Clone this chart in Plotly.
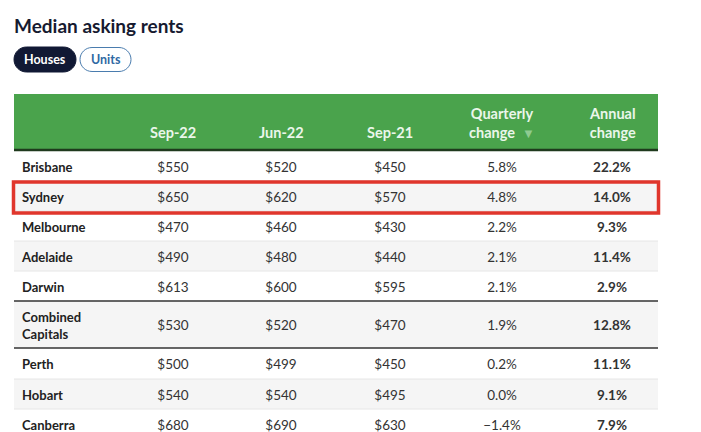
import plotly.graph_objects as go

# ---------------- data ----------------
cities = ["Brisbane", "Sydney", "Melbourne", "Adelaide", "Darwin",
          "Combined<br>Capitals", "Perth", "Hobart", "Canberra"]
sep22 = [550, 650, 470, 490, 613, 530, 500, 540, 680]
jun22 = [520, 620, 460, 480, 600, 520, 499, 540, 690]
sep21 = [450, 570, 430, 440, 595, 470, 450, 495, 630]
quarterly = [5.8, 4.8, 2.2, 2.1, 2.1, 1.9, 0.2, 0.0, -1.4]
annual = [22.2, 14.0, 9.3, 11.4, 2.9, 12.8, 11.1, 9.1, 7.9]
headers = ["Sep-22", "Jun-22", "Sep-21", "Quarterly<br>change", "Annual<br>change"]
title = "Median asking rents"
tabs = ["Houses", "Units"]
highlight = "Sydney"

# ---------------- layout constants ----------------
W, H = 701, 432
FONT = "Lato"
TBL_L, TBL_R = 14, 658
HDR_TOP, HDR_BOT = 94, 149
ROW_TOP = 151
row_h = [30, 30, 30, 30, 30, 47, 31, 30, 30]
col_x = [173, 281, 390, 502, 612]
name_x = 22
GREEN = "#4aa34c"
ROW_GRAY = "#f5f5f5"
SEP = "#e6e6e6"
TXT = "#333333"
NAME = "#222222"

# compute row bounds
tops, bots, centers = [], [], []
y = ROW_TOP
for h in row_h:
    tops.append(y)
    bots.append(y + h)
    centers.append(y + h / 2 + 2.5)
    y += h

fig = go.Figure()
shapes = []

# header
shapes.append(dict(type="rect", x0=TBL_L, x1=TBL_R, y0=HDR_TOP, y1=HDR_BOT,
                   fillcolor=GREEN, line=dict(width=0), layer="below"))
shapes.append(dict(type="line", x0=TBL_L, x1=TBL_R, y0=HDR_BOT + 1, y1=HDR_BOT + 1,
                   line=dict(color="#1f3a1d", width=2.5)))

# row fills and separators
for i in range(len(cities)):
    if i % 2 == 1:
        shapes.append(dict(type="rect", x0=TBL_L, x1=TBL_R, y0=tops[i], y1=bots[i],
                           fillcolor=ROW_GRAY, line=dict(width=0), layer="below"))
for i in range(1, len(cities)):
    dark = "Capitals" in cities[i] or "Capitals" in cities[i - 1]
    shapes.append(dict(type="line", x0=TBL_L, x1=TBL_R, y0=tops[i], y1=tops[i],
                       line=dict(color="#333333" if dark else SEP,
                                 width=1.5 if dark else 1)))

# highlight box
hi = cities.index(highlight)
shapes.append(dict(type="rect", x0=TBL_L - 0.5, x1=TBL_R + 0.5,
                   y0=tops[hi] + 1, y1=bots[hi] + 2,
                   line=dict(color="#e0362c", width=3.5), fillcolor="rgba(0,0,0,0)"))

# tab pills (rounded ends drawn with cubic curves)
def pill(x0, x1, y0, y1, fill, line_color):
    r = (y1 - y0) / 2
    k = 0.5523 * r
    yc = (y0 + y1) / 2
    a, b = x0 + r, x1 - r
    path = (f"M{a},{y0} L{b},{y0} "
            f"C{b + k},{y0} {x1},{yc - k} {x1},{yc} "
            f"C{x1},{yc + k} {b + k},{y1} {b},{y1} "
            f"L{a},{y1} "
            f"C{a - k},{y1} {x0},{yc + k} {x0},{yc} "
            f"C{x0},{yc - k} {a - k},{y0} {a},{y0} Z")
    return dict(type="path", path=path, fillcolor=fill,
                line=dict(color=line_color, width=1))

shapes.append(pill(14, 76, 47, 72, "#111934", "#111934"))
shapes.append(pill(80, 131, 47.5, 71.5, "white", "#4a7cae"))

# ---------------- text ----------------
def fmt_money(v):
    return f"${v}"

def fmt_pct(v):
    return ("\u2212" if v < 0 else "") + f"{abs(v):.1f}%"

# names
fig.add_trace(go.Scatter(x=[name_x] * len(cities), y=centers, mode="text",
                         text=[f"<b>{c}</b>" for c in cities],
                         textposition="middle right",
                         textfont=dict(family=FONT, size=13, color=NAME),
                         hoverinfo="skip"))
cols = [
    [fmt_money(v) for v in sep22],
    [fmt_money(v) for v in jun22],
    [fmt_money(v) for v in sep21],
    [fmt_pct(v) for v in quarterly],
    [f"<b>{fmt_pct(v)}</b>" for v in annual],
]
for cx, txt in zip(col_x, cols):
    fig.add_trace(go.Scatter(x=[cx] * len(txt), y=centers, mode="text", text=txt,
                             textposition="middle center",
                             textfont=dict(family=FONT, size=13.5, color=TXT),
                             hoverinfo="skip"))

# headers
annotations = []
for cx, h in zip(col_x, headers):
    label = h
    if h.startswith("Quarterly"):
        label = h + "  <span style='color:#8fcb91;font-size:13px'>\u25BC</span>"
    annotations.append(dict(x=cx, y=HDR_BOT - 6, xref="x", yref="y",
                            text=f"<b>{label}</b>", showarrow=False,
                            xanchor="center", yanchor="bottom", align="center",
                            font=dict(family=FONT, size=14.5, color="#eaf6ea")))

# title and tabs
annotations.append(dict(x=12, y=25, xref="x", yref="y", text=f"<b>{title}</b>",
                        showarrow=False, xanchor="left", yanchor="middle",
                        font=dict(family=FONT, size=19, color="#161a30")))
annotations.append(dict(x=45, y=59.5, xref="x", yref="y", text=f"<b>{tabs[0]}</b>",
                        showarrow=False, xanchor="center", yanchor="middle",
                        font=dict(family=FONT, size=12.5, color="white")))
annotations.append(dict(x=105.5, y=59.5, xref="x", yref="y", text=f"<b>{tabs[1]}</b>",
                        showarrow=False, xanchor="center", yanchor="middle",
                        font=dict(family=FONT, size=12.5, color="#2f69a3")))

fig.update_layout(
    width=W, height=H,
    margin=dict(l=0, r=0, t=0, b=0),
    paper_bgcolor="white", plot_bgcolor="white",
    showlegend=False,
    xaxis=dict(range=[0, W], visible=False, fixedrange=True),
    yaxis=dict(range=[H, 0], visible=False, fixedrange=True),
    shapes=shapes, annotations=annotations,
)

fig.write_html("out.html", config={"displayModeBar": False},
               post_script="document.body.style.margin='0';"
                           "document.body.style.overflow='hidden';")
